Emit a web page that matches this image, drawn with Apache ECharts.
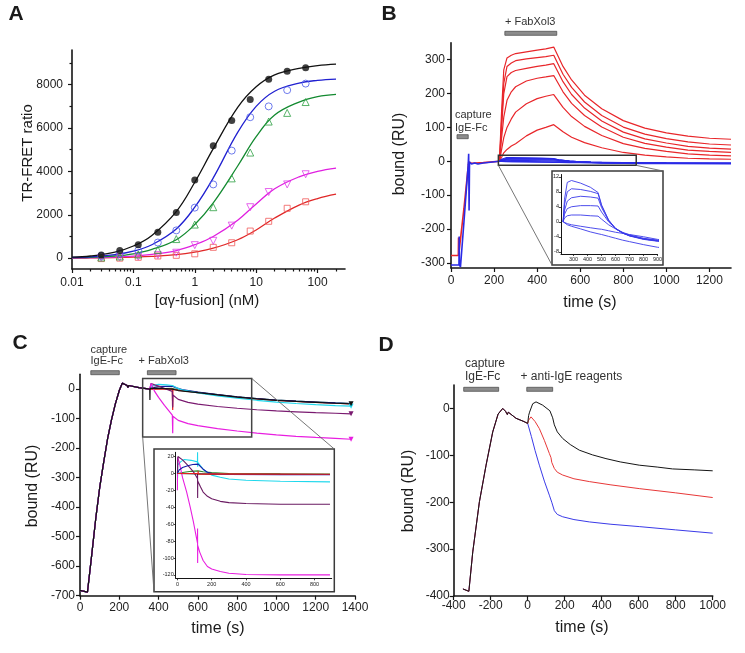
<!DOCTYPE html>
<html><head><meta charset="utf-8">
<script src="https://cdn.jsdelivr.net/npm/echarts@6/dist/echarts.min.js"></script>
<style>html,body{margin:0;padding:0;background:#fff}#c{width:745px;height:653px}</style>
</head><body><div id="c"></div><script>
// ---------- Panel A data ----------
const aConc = [0.03,0.06,0.12,0.25,0.5,1,2,4,8,16,32,64];
const aBlackPts   = [150,350,620,1200,2100,3600,5180,6350,7320,8250,8620,8780];
const aBluePts    = [100,200,350,720,1280,2330,3400,4960,6500,7000,7750,8050];
const aGreenPts   = [30,80,170,380,880,1550,2350,3680,4870,6300,6700,7200];
const aMagentaPts = [20,40,70,140,250,600,800,1500,2350,3050,3400,3870];
const aRedPts     = [-20,0,40,100,130,200,500,710,1250,1700,2300,2600];
const aFitConc = [0.01,0.02,0.05,0.1,0.2,0.5,1,2,5,10,20,50,100,200];
const aBlackFit   = [50,100,280,560,1050,2150,3500,5050,6950,7900,8450,8750,8880,8950];
const aBlueFit    = [30,60,160,320,620,1350,2350,3700,5800,7000,7700,8070,8200,8260];
const aGreenFit   = [20,40,100,200,400,850,1550,2550,4250,5600,6600,7200,7450,7550];
const aMagentaFit = [10,20,45,90,170,350,620,1000,1750,2500,3200,3750,4000,4150];
const aRedFit     = [5,10,25,45,80,160,280,460,850,1300,1850,2450,2750,2950];
const aXTicks = [0.01,0.1,1,10,100];
const aXMinor = [0.02,0.03,0.04,0.05,0.06,0.07,0.08,0.09,0.2,0.3,0.4,0.5,0.6,0.7,0.8,0.9,2,3,4,5,6,7,8,9,20,30,40,50,60,70,80,90,200];
const aYTicks = [0,2000,4000,6000,8000];
const aYMinor = [1000,3000,5000,7000,9000];

// ---------- Panel B data ----------
const bRedPre  = [[0,-278],[34,-278],[35,-225],[36,-275],[60,-140],[82,-2],[95,-6],[150,-4],[225,0]];
const bBluePre = [[0,-306],[37,-306],[38,-222],[39,-306],[44,-312],[60,-180],[80,-10],[82,22],[84,-145],[86,-2],[95,-8],[110,-5],[125,-8],[150,-5],[225,0]];
const bRedT = [225,235,245,260,280,300,350,400,440,477,520,560,620,700,800,900,1000,1100,1200,1300];
const bRed1 = [0,150,270,305,313,318,323,328,332,337,280,240,195,155,120,98,84,74,68,65];
const bRed2 = [0,120,230,280,290,297,302,306,309,313,257,218,175,135,101,80,67,57,51,48];
const bRed3 = [0,100,200,250,262,268,274,280,284,288,235,197,157,119,86,66,54,44,39,36];
const bRed4 = [0,70,130,180,205,220,237,245,249,253,205,171,135,101,71,53,42,33,29,26];
const bRed5 = [0,35,70,100,125,145,170,185,192,197,159,132,103,76,52,38,29,22,18,16];
const bRed6 = [0,12,25,35,45,52,75,92,100,108,87,71,55,40,26,18,13,9,7,6];
const bBlueT = [225,235,255,285,350,420,475,500,550,600,650,700,800,900,1000,1300];
const bBlue1 = [0,6,10.5,11,10.3,9.2,7.8,4.5,0.5,-1.8,-3.0,-3.7,-4.5,-5.0,-5.3,-6];
const bBlue2 = [0,4.5,8,8.8,8.6,8.1,7.5,4.3,0.4,-1.8,-3.0,-3.7,-4.6,-5.1,-5.4,-6];
const bBlue3 = [0,3,5.5,6.4,6.8,6.6,6.3,3.8,0.3,-1.8,-3.0,-3.8,-4.7,-5.2,-5.5,-6.1];
const bBlue4 = [0,2,3.5,4,4.3,4.3,4.2,2.6,0,-1.8,-2.9,-3.7,-4.6,-5.1,-5.4,-6];
const bBlue5 = [0,1,1.6,1.8,1.8,1.6,1.5,0.7,-0.8,-1.9,-2.8,-3.5,-4.4,-4.9,-5.2,-5.8];
const bBlue6 = [0,-0.2,-0.5,-0.8,-1.2,-1.6,-1.9,-2.0,-2.4,-2.8,-3.1,-3.4,-4.0,-4.7,-5.1,-5.8];
const bBlue7 = [0,-0.3,-0.8,-1.2,-1.9,-2.7,-3.2,-3.4,-3.9,-4.4,-4.9,-5.3,-6.1,-6.8,-7.2,-8];
const bXTicks = [0,200,400,600,800,1000,1200];
const bYTicks = [-300,-200,-100,0,100,200,300];
const bInXTicks = [300,400,500,600,700,800,900];
const bInYTicks = [-8,-4,0,4,8,12];
const bBars = [[28,80],[250,491]];
const bBox = [[220,-12],[860,18]];

// ---------- Panel C data ----------
const cCapture = [[0,-682],[38,-688],[42,-692],[60,-560],[80,-440],[100,-335],[120,-250],[140,-170],[160,-105],[180,-50],[200,-5],[215,20],[240,12],[244,5],[248,12],[300,5],[355,0]];
const cBlackPost   = [[355,2],[356,-37],[357,2],[380,3],[420,2],[470,0],[500,-5],[600,-12],[700,-20],[800,-27],[900,-33],[1000,-38],[1100,-42],[1200,-45],[1300,-48],[1380,-50]];
const cNavyPost    = [[355,0],[370,5],[400,8],[470,10],[490,4],[520,-2],[600,-10],[700,-19],[800,-26],[900,-32],[1000,-37],[1100,-41],[1200,-44],[1300,-47],[1380,-49]];
const cCyanPost    = [[355,0],[370,12],[400,16],[440,14],[470,12],[490,5],[520,-3],[600,-13],[700,-23],[800,-31],[900,-38],[1000,-44],[1100,-49],[1200,-53],[1300,-56],[1380,-58]];
const cPurplePost  = [[355,0],[362,19],[380,14],[400,10],[430,2],[470,-8],[471,-5],[472,-62],[473,-20],[500,-35],[550,-45],[600,-51],[700,-59],[800,-65],[900,-70],[1000,-74],[1100,-77],[1200,-80],[1300,-82],[1380,-84]];
const cMagentaPost = [[355,0],[362,19],[380,-8],[400,-28],[430,-55],[470,-88],[471,-88],[472,-150],[473,-92],[500,-106],[550,-117],[600,-124],[700,-134],[800,-142],[900,-149],[1000,-155],[1100,-160],[1200,-164],[1300,-167],[1380,-170]];
const cGreenPost   = [[355,0],[470,2],[500,-3],[600,-11],[700,-19],[800,-26],[900,-32],[1000,-37],[1100,-41],[1200,-44],[1300,-47],[1380,-49]];
const cRedPost     = [[355,0],[470,0],[471,-55],[472,-71],[473,-1],[500,-4],[600,-12],[700,-20],[800,-27],[900,-33],[1000,-38],[1100,-42],[1200,-45],[1300,-48],[1380,-50]];
const cInMagenta = [[0,-20],[1,19],[10,14],[30,-5],[54,-22],[75,-40],[93,-57],[110,-75],[117,-82],[117.5,-65],[118,-106],[118.5,-85],[130,-93],[150,-103],[175,-110],[200,-113],[250,-116],[300,-118],[400,-119.5],[600,-120],[890,-120]];
const cInPurple  = [[0,0],[3,20],[30,16],[54,11],[80,5],[100,0],[117,-6],[117.5,0],[118,-29],[118.5,-9],[135,-16],[150,-22],[175,-27],[200,-30],[250,-33],[300,-34.5],[400,-35.5],[600,-36.5],[890,-36.5]];
const cInCyan    = [[0,0],[1,-5],[2,10],[20,14],[40,16.5],[80,15.5],[117,13.7],[117.5,25],[118,8],[118.5,13],[150,5],[175,1],[200,-2],[250,-4.5],[300,-6.5],[400,-8],[600,-9.3],[890,-10]];
const cInNavy    = [[0,0],[10,4],[30,7],[60,9],[90,10.5],[120,11],[150,5],[175,1.5],[200,0],[250,-1],[300,-1.2],[600,-1.5],[890,-1.5]];
const cInGreen   = [[0,0],[40,1.5],[80,2.5],[120,3],[150,2],[200,1],[300,0],[600,-0.5],[890,-0.7]];
const cInRed     = [[0,0],[120,0],[121,3],[122,-1],[200,-0.5],[890,-1]];
const cInBlack   = [[0,0],[200,-0.8],[890,-1.2]];
const cXTicks = [0,200,400,600,800,1000,1200,1400];
const cYTicks = [-700,-600,-500,-400,-300,-200,-100,0];
const cInXTicks = [0,200,400,600,800];
const cInYTicks = [-120,-100,-80,-60,-40,-20,0,20];
const cBars = [[55,200],[343,489]];
const cBox = [[319,-162],[874,36]];

// ---------- Panel D data ----------
const dCapture = [[-350,-385],[-318,-390],[-315,-387],[-297,-306],[-261,-199],[-225,-121],[-189,-50],[-160,-12],[-135,0],[-120,-6],[-110,-13],[-105,-8],[-63,-21],[-20,-28],[0,-32]];
const dBlackPost = [[5,-15],[10,-8],[27,10],[45,14],[81,7],[120,-5],[126,-9],[135,-20],[144,-35],[160,-50],[189,-64],[230,-77],[279,-89],[350,-99],[423,-107],[500,-114],[603,-121],[700,-125],[783,-129],[900,-131],[1000,-133]];
const dRedPost   = [[5,-25],[18,-18],[40,-28],[63,-43],[90,-68],[117,-96],[126,-105],[130,-115],[144,-128],[160,-136],[189,-142],[250,-150],[333,-156],[450,-163],[603,-171],[800,-180],[1000,-190]];
const dBluePost  = [[5,-36],[20,-60],[40,-90],[63,-121],[90,-155],[117,-185],[130,-200],[144,-218],[160,-226],[189,-231],[250,-237],[333,-242],[450,-247],[603,-252],[800,-259],[1000,-266]];
const dXTicks = [-400,-200,0,200,400,600,800,1000];
const dYTicks = [-400,-300,-200,-100,0];
const dBars = [[-346,-157],[-5,135]];

// ---------- styling / layout ----------
const FONT = 'Liberation Sans, Arial, Helvetica, sans-serif';
const INK = '#151515';
const grids = [
  {left:72, top:50, width:273, height:219},
  {left:451, top:42.7, width:280, height:225.3},
  {left:561, top:174.5, width:96.5, height:79.5},
  {left:80, top:374.3, width:275, height:221.4},
  {left:175.7, top:452.3, width:156, height:126},
  {left:453.7, top:385, width:259, height:211}
].map(g => Object.assign({outerBoundsMode:'none', containLabel:false}, g));

function axis(dim, gi, type, min, max, ticks, o) {
  o = o || {};
  const small = !!o.small;
  return {
    gridIndex: gi, type: type, min: min, max: max,
    position: dim === 'x' ? 'bottom' : 'left', offset: 0,
    logBase: 10,
    axisLine: {show: o.noLine ? false : true, onZero: false, lineStyle: {color: INK, width: small ? 1 : 1.6}},
    axisTick: {show: true, inside: false, length: o.tickLen || (small ? 2 : 4), customValues: ticks,
               lineStyle: {color: INK, width: small ? 0.8 : 1.2}},
    axisLabel: o.noLabel ? {show: false} : {show: true, customValues: ticks, color: '#222',
               fontFamily: FONT, fontSize: small ? 5.5 : 12, margin: o.margin != null ? o.margin : 7,
               formatter: v => String(+Number(v).toPrecision(6))},
    splitLine: {show: false}, minorTick: {show: false}, minorSplitLine: {show: false}
  };
}

const xAxes = [
  axis('x', 0, 'log', 0.01, 280, aXTicks, {margin: 8}),
  axis('x', 0, 'log', 0.01, 280, aXMinor, {noLine: true, noLabel: true, tickLen: 2.5}),
  axis('x', 1, 'value', 0, 1300, bXTicks, {margin: 7}),
  axis('x', 2, 'value', 210, 900, bInXTicks, {small: true, margin: 2}),
  axis('x', 3, 'value', 0, 1400, cXTicks, {margin: 6}),
  axis('x', 4, 'value', -10, 900, cInXTicks, {small: true, margin: 3}),
  axis('x', 5, 'value', -400, 1000, dXTicks, {margin: 4})
];
const yAxes = [
  axis('y', 0, 'value', -500, 9600, aYTicks, {margin: 9}),
  axis('y', 0, 'value', -500, 9600, aYMinor, {noLine: true, noLabel: true, tickLen: 2.5}),
  axis('y', 1, 'value', -315, 350, bYTicks, {margin: 6}),
  axis('y', 2, 'value', -8.6, 12.6, bInYTicks, {small: true, margin: 2}),
  axis('y', 3, 'value', -700, 50, cYTicks, {margin: 5}),
  axis('y', 4, 'value', -124, 25, cInYTicks, {small: true, margin: 2}),
  axis('y', 5, 'value', -400, 50, dYTicks, {margin: 4})
];

const series = [];
function line(xi, yi, data, color, width, extra) {
  series.push(Object.assign({type: 'line', xAxisIndex: xi, yAxisIndex: yi, data: data, symbol: 'none',
    showSymbol: false, lineStyle: {color: color, width: width}, itemStyle: {color: color},
    animation: false, silent: true, clip: true}, extra || {}));
}
const zip = (xs, ys) => xs.map((x, i) => [x, ys[i]]);

// Panel A fits
const aFits = [[aRedFit,'#e02828'],[aMagentaFit,'#e020e0'],[aGreenFit,'#138a30'],[aBlueFit,'#2020d0'],[aBlackFit,'#111111']];
aFits.forEach(f => line(0, 0, zip(aFitConc, f[0]), f[1], 1.3, {smooth: 0.4}));
// Panel A points
function pts(vals, symbol, color, filled, rot) {
  series.push({type: 'scatter', xAxisIndex: 0, yAxisIndex: 0, data: zip(aConc, vals), symbol: symbol,
    symbolSize: symbol === 'rect' ? 6 : 7, symbolRotate: rot || 0, animation: false, silent: true, z: 5,
    itemStyle: filled ? {color: color} : {color: 'rgba(255,255,255,0)', borderColor: color, borderWidth: 1}});
}
pts(aRedPts, 'rect', '#f05a5a', false);
pts(aMagentaPts, 'triangle', '#e040e8', false, 180);
pts(aGreenPts, 'triangle', '#2ea043', false);
pts(aBluePts, 'circle', '#4a5ae8', false);
pts(aBlackPts, 'circle', '#111111', true);

// Panel B
const RED = '#e8262a', BLUE = '#2a2ae6';
line(2, 2, bRedPre, RED, 1.6);
[bRed1,bRed2,bRed3,bRed4,bRed5,bRed6].forEach(r => line(2, 2, zip(bRedT, r), RED, 1.2));
line(2, 2, bBluePre, BLUE, 1.6);
const bBlues = [bBlue1,bBlue2,bBlue3,bBlue4,bBlue5,bBlue6,bBlue7];
bBlues.forEach(b => line(2, 2, zip(bBlueT, b), BLUE, 1.2));
bBlues.forEach(b => line(3, 3, zip(bBlueT, b), '#3a3aea', 0.9));

// Panel C (end of the purple, magenta, cyan and black traces marked with a small arrowhead)
const cTraces = [[cGreenPost,'#2e8b2e',false],[cRedPost,'#e82020',false],[cNavyPost,'#1a1a9a',false],[cCyanPost,'#20d8ec',true],
                 [cPurplePost,'#7a1a70',true],[cMagentaPost,'#e81ee0',true],[cBlackPost,'#111111',true]];
cTraces.forEach(t => {
  const d = cCapture.concat(t[0]).map(p => p);
  if (t[2]) {
    const last = d.pop();
    d.push({value: last, symbol: 'triangle', symbolRotate: 180, symbolSize: 5});
  }
  line(4, 4, d, t[1], 1.2, {showSymbol: true, showAllSymbol: true});
});
const cIn = [[cInGreen,'#2e8b2e'],[cInCyan,'#20d8ec'],[cInMagenta,'#e81ee0'],[cInPurple,'#6a1a62'],
             [cInBlack,'#111111'],[cInNavy,'#1a1aa8'],[cInRed,'#e82020']];
cIn.forEach(t => line(5, 5, t[0], t[1], 1.1));

// Panel D
line(6, 6, dCapture.concat(dBluePost), '#3a3ae8', 1);
line(6, 6, dCapture.concat(dRedPost), '#e83838', 1);
line(6, 6, dCapture.concat(dBlackPost), '#151515', 1);

const chart = echarts.init(document.getElementById('c'), null, {renderer: 'canvas'});
chart.setOption({
  animation: false, backgroundColor: '#ffffff',
  grid: grids, xAxis: xAxes, yAxis: yAxes, series: series
});

// ---------- annotations ----------
const px = (xi, v) => chart.convertToPixel({xAxisIndex: xi}, v);
const py = (yi, v) => chart.convertToPixel({yAxisIndex: yi}, v);
const g = [];
function txt(s, x, y, size, o) {
  o = o || {};
  g.push({type: 'text', x: x, y: y, rotation: o.rot || 0, z: 10,
    style: {text: s, fill: o.color || '#1a1a1a', font: (o.weight || 'normal') + ' ' + size + 'px ' + FONT,
            align: o.align || 'center', verticalAlign: 'middle'}});
}
function bar(xi, iv, y) {
  const x1 = px(xi, iv[0]), x2 = px(xi, iv[1]);
  g.push({type: 'rect', z: 10, shape: {x: x1, y: y - 2, width: x2 - x1, height: 4},
    style: {fill: '#8c8c8c', stroke: '#505050', lineWidth: 0.8}});
}
function seg(x1, y1, x2, y2, w, c) {
  g.push({type: 'line', z: 10, shape: {x1: x1, y1: y1, x2: x2, y2: y2}, style: {stroke: c || '#555', lineWidth: w || 1}});
}
function rect(x1, y1, x2, y2, w, c) {
  g.push({type: 'rect', z: 10, shape: {x: x1, y: y1, width: x2 - x1, height: y2 - y1},
    style: {fill: 'none', stroke: c || '#333', lineWidth: w || 1.5}});
}
// panel letters
txt('A', 16, 14, 21, {weight: 'bold'});
txt('B', 389, 14, 21, {weight: 'bold'});
txt('C', 20, 343, 21, {weight: 'bold'});
txt('D', 386, 345, 21, {weight: 'bold'});
// axis titles
txt('TR-FRET ratio', 28, 153, 15, {rot: Math.PI / 2});
txt('[\u03b1\u03b3-fusion] (nM)', 207, 301, 15);
txt('bound (RU)', 400, 154, 16, {rot: Math.PI / 2});
txt('time (s)', 590, 303, 16);
txt('bound (RU)', 33, 486, 16, {rot: Math.PI / 2});
txt('time (s)', 218, 629, 16);
txt('bound (RU)', 409, 491, 16, {rot: Math.PI / 2});
txt('time (s)', 582, 628, 16);
// B annotations
txt('+ FabXol3', 505, 22, 11, {align: 'left', color: '#333'});
txt('capture', 455, 115, 11, {align: 'left', color: '#333'});
txt('IgE-Fc', 455, 127.5, 11, {align: 'left', color: '#333'});
bar(2, bBars[0], 136.7); bar(2, bBars[1], 33.3);
// C annotations
txt('capture', 90.5, 349.5, 11, {align: 'left', color: '#333'});
txt('IgE-Fc', 90.5, 360.5, 11, {align: 'left', color: '#333'});
txt('+ FabXol3', 138.5, 360.5, 11, {align: 'left', color: '#333'});
bar(4, cBars[0], 372.7); bar(4, cBars[1], 372.7);
// D annotations
txt('capture', 465, 363.5, 12, {align: 'left', color: '#333'});
txt('IgE-Fc', 465, 377, 12, {align: 'left', color: '#333'});
txt('+ anti-IgE reagents', 520.5, 377, 12, {align: 'left', color: '#333'});
bar(6, dBars[0], 389.3); bar(6, dBars[1], 389.3);
// B zoom box, inset frame, connectors
const bx1 = px(2, bBox[0][0]), bx2 = px(2, bBox[1][0]), by1 = py(2, bBox[1][1]), by2 = py(2, bBox[0][1]);
rect(bx1, by1, bx2, by2, 1.5, '#333');
rect(552, 171, 663, 265, 1.5, '#3a3a3a');
seg(bx1, by2, 552, 265, 0.9, '#666');
seg(bx2, by2, 663, 171, 0.9, '#666');
// C zoom box, inset frame, connectors
const cx1 = px(4, cBox[0][0]), cx2 = px(4, cBox[1][0]), cy1 = py(4, cBox[1][1]), cy2 = py(4, cBox[0][1]);
rect(cx1, cy1, cx2, cy2, 1.5, '#444');
rect(154, 449, 334.3, 591.7, 1.5, '#3a3a3a');
seg(cx1, cy2, 154, 591.7, 0.9, '#666');
seg(cx2, cy1, 334.3, 449, 0.9, '#666');
chart.setOption({graphic: g});
</script></body></html>
